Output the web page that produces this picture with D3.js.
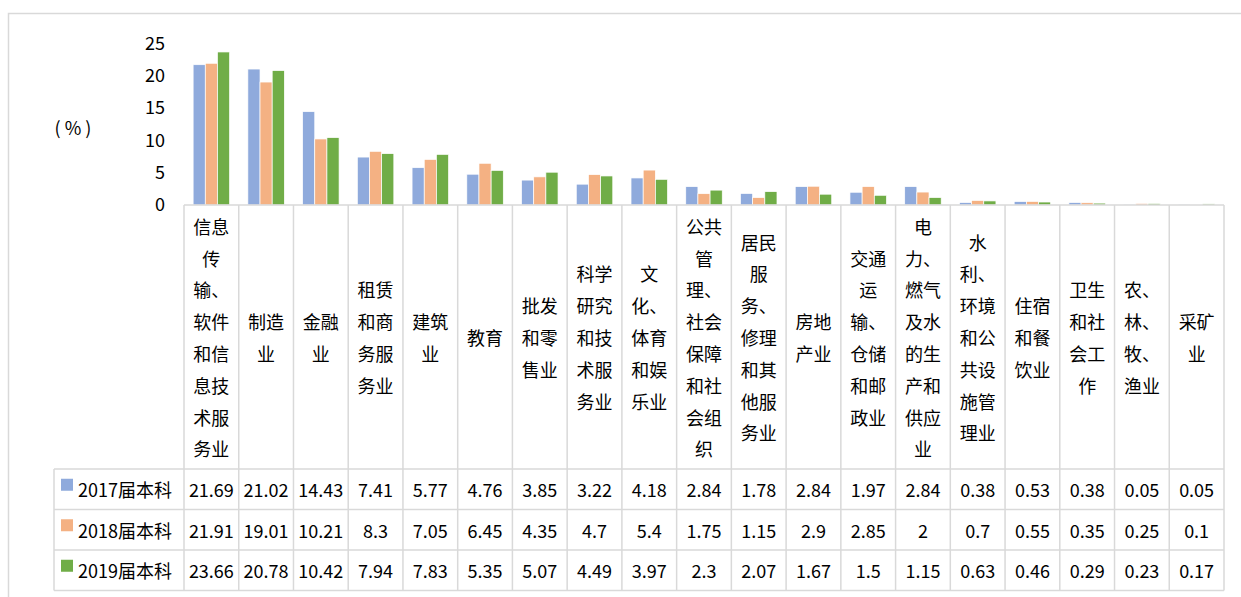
<!DOCTYPE html>
<html><head><meta charset="utf-8">
<script src="https://cdn.jsdelivr.net/npm/d3@7"></script>
<style>
html,body{margin:0;padding:0;background:#fff;}
svg{display:block;font-family:"Noto Sans CJK SC","Noto Sans",sans-serif;}
</style></head>
<body>
<svg id="c" width="1241" height="597"></svg>
<script>
const categories = [
  "信息\n传\n输、\n软件\n和信\n息技\n术服\n务业",
  "制造\n业",
  "金融\n业",
  "租赁\n和商\n务服\n务业",
  "建筑\n业",
  "教育",
  "批发\n和零\n售业",
  "科学\n研究\n和技\n术服\n务业",
  "文\n化、\n体育\n和娱\n乐业",
  "公共\n管\n理、\n社会\n保障\n和社\n会组\n织",
  "居民\n服\n务、\n修理\n和其\n他服\n务业",
  "房地\n产业",
  "交通\n运\n输、\n仓储\n和邮\n政业",
  "电\n力、\n燃气\n及水\n的生\n产和\n供应\n业",
  "水\n利、\n环境\n和公\n共设\n施管\n理业",
  "住宿\n和餐\n饮业",
  "卫生\n和社\n会工\n作",
  "农、\n林、\n牧、\n渔业",
  "采矿\n业"
];
const seriesNames = ["2017届本科", "2018届本科", "2019届本科"];
const values2017 = [21.69,21.02,14.43,7.41,5.77,4.76,3.85,3.22,4.18,2.84,1.78,2.84,1.97,2.84,0.38,0.53,0.38,0.05,0.05];
const values2018 = [21.91,19.01,10.21,8.3,7.05,6.45,4.35,4.7,5.4,1.75,1.15,2.9,2.85,2,0.7,0.55,0.35,0.25,0.1];
const values2019 = [23.66,20.78,10.42,7.94,7.83,5.35,5.07,4.49,3.97,2.3,2.07,1.67,1.5,1.15,0.63,0.46,0.29,0.23,0.17];
const yTicks = [0,5,10,15,20,25];
const unitLabel = "( % )";

const colors = ["#8FAADC", "#F4B183", "#70AD47"];
const series = [values2017, values2018, values2019];

const svg = d3.select("#c");
const grid = "#d9d9d9";
const fs = 18;

// outer frame
svg.append("rect").attr("x", 8.5).attr("y", 13.5).attr("width", 1240).attr("height", 600)
  .attr("fill", "none").attr("stroke", grid).attr("stroke-width", 1.5);

const x0 = 184, x1 = 1224, yBase = 205, yTopVal = 43.3;
const tableTop = 469, rowH = 40.5, legendLeft = 54;

const x = d3.scaleBand().domain(d3.range(categories.length)).range([x0, x1]).paddingInner(0).paddingOuter(0);
const y = d3.scaleLinear().domain([0, 25]).range([yBase, yTopVal]);

const bw = x.bandwidth();
const barW = bw / 4.5;
const xs = d3.scaleBand().domain([0,1,2]).range([0.75 * barW, 0.75 * barW + 3 * barW]);

// bars
series.forEach((vals, si) => {
  svg.append("g").selectAll("rect").data(vals).join("rect")
    .attr("x", (d, i) => x(i) + xs(si))
    .attr("y", d => y(d))
    .attr("width", xs.bandwidth())
    .attr("height", d => yBase - y(d))
    .attr("fill", colors[si])
    .attr("stroke", "#fff").attr("stroke-width", 0.7);
});

// y axis labels
const yAxis = d3.axisLeft(y).tickValues(yTicks).tickSize(0).tickPadding(0);
const gy = svg.append("g").attr("transform", "translate(165,0)").call(yAxis);
gy.select(".domain").remove();
gy.selectAll("text").attr("font-size", fs).attr("fill", "#000")
  .attr("font-family", '"Noto Sans CJK SC","Noto Sans",sans-serif');

svg.append("text").attr("x", 73).attr("y", 127).attr("text-anchor", "middle")
  .attr("dominant-baseline", "central").attr("font-size", fs).text(unitLabel);

// table grid
const tableBottom = tableTop + rowH * 3;
const lines = svg.append("g").attr("stroke", grid).attr("stroke-width", 1.5).attr("fill", "none");
// baseline / top of category cells
lines.append("line").attr("x1", x0).attr("x2", x1).attr("y1", yBase).attr("y2", yBase);
// vertical lines at band boundaries
d3.range(categories.length + 1).forEach(i => {
  const xx = i < categories.length ? x(i) : x1;
  lines.append("line").attr("x1", xx).attr("x2", xx).attr("y1", yBase).attr("y2", tableBottom);
});
// legend column left edge
lines.append("line").attr("x1", legendLeft).attr("x2", legendLeft).attr("y1", tableTop).attr("y2", tableBottom);
// horizontal row lines
[0,1,2,3].forEach(r => {
  const yy = tableTop + r * rowH;
  lines.append("line").attr("x1", legendLeft).attr("x2", x1).attr("y1", yy).attr("y2", yy);
});

// category labels
const catG = svg.append("g").attr("font-size", fs).attr("fill", "#000").attr("text-anchor", "middle");
const lineH = 31.8;
categories.forEach((c, i) => {
  const parts = c.split("\n");
  const cy = (yBase + tableTop) / 2;
  const start = cy - (parts.length - 1) * lineH / 2;
  const t = catG.append("text").attr("dominant-baseline", "central");
  parts.forEach((p, k) => {
    t.append("tspan").attr("x", x(i) + bw / 2).attr("y", start + k * lineH).text(p);
  });
});

// table values and legend
series.forEach((vals, si) => {
  const cy = tableTop + si * rowH + rowH / 2;
  svg.append("rect").attr("x", 61).attr("y", cy - 10.5).attr("width", 12).attr("height", 12).attr("fill", colors[si]);
  svg.append("text").attr("x", 78).attr("y", cy).attr("dominant-baseline", "central")
    .attr("font-size", fs).text(seriesNames[si]);
  svg.append("g").selectAll("text").data(vals).join("text")
    .attr("x", (d, i) => x(i) + bw / 2).attr("y", cy)
    .attr("text-anchor", "middle").attr("dominant-baseline", "central")
    .attr("font-size", fs).text(d => String(d));
});
</script>
</body></html>
